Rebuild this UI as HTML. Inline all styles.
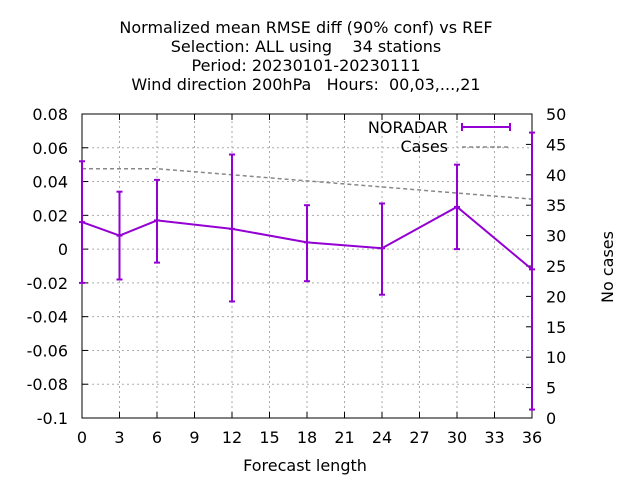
<!DOCTYPE html>
<html><head><meta charset="utf-8"><style>
body{margin:0;background:#fff}
svg{display:block;font-family:"DejaVu Sans","Liberation Sans",sans-serif}
text{white-space:pre}
</style></head><body>
<svg id="chart" width="640" height="480">
<g font-size="16" text-anchor="middle" fill="#000">
<text x="306" y="33" xml:space="preserve">Normalized mean RMSE diff (90% conf) vs REF</text>
<text x="306" y="52" xml:space="preserve">Selection: ALL using    34 stations</text>
<text x="306" y="71" xml:space="preserve">Period: 20230101-20230111</text>
<text x="306" y="90" xml:space="preserve">Wind direction 200hPa   Hours:  00,03,...,21</text>
</g>
<g id="grid"></g>
<rect x="82" y="114" width="450" height="304" fill="none" stroke="#000"/>
<g id="axes" font-size="16" fill="#000"></g>
<text x="305" y="471" font-size="16" text-anchor="middle">Forecast length</text>
<text x="0" y="0" font-size="16" text-anchor="middle" transform="translate(613,267) rotate(-90)">No cases</text>
<g id="series"></g>
<g font-size="16">
<text x="448" y="133" text-anchor="end">NORADAR</text>
<line x1="462" y1="127" x2="510" y2="127" stroke="#9400d3" stroke-width="2"/>
<line x1="462" y1="123" x2="462" y2="131" stroke="#9400d3" stroke-width="2"/>
<line x1="510" y1="123" x2="510" y2="131" stroke="#9400d3" stroke-width="2"/>
<text x="448" y="152" text-anchor="end">Cases</text>
<line x1="462" y1="147" x2="510" y2="147" stroke="#888" stroke-width="1.5" stroke-dasharray="4,3"/>
</g>
</svg>
<script>
const xTicks=[0,3,6,9,12,15,18,21,24,27,30,33,36];
const yTicks=[-0.1,-0.08,-0.06,-0.04,-0.02,0,0.02,0.04,0.06,0.08];
const yTickLabels=["-0.1","-0.08","-0.06","-0.04","-0.02","0","0.02","0.04","0.06","0.08"];
const y2Ticks=[0,5,10,15,20,25,30,35,40,45,50];
const steps=[0,3,6,12,18,24,30,36];
const meanVals=[0.016,0.008,0.017,0.012,0.004,0.0005,0.025,-0.012];
const upperVals=[0.052,0.034,0.041,0.056,0.026,0.027,0.050,0.069];
const lowerVals=[-0.020,-0.018,-0.008,-0.031,-0.019,-0.027,0.000,-0.095];
const casesVals=[41,41,41,40,39,38,37,36];
const NS="http://www.w3.org/2000/svg";
const X0=82,X1=532,Y0=418,Y1=114;
const sx=v=>X0+(v-0)/36*(X1-X0);
const sy=v=>Y0-(v+0.1)/0.18*(Y0-Y1);
const sy2=v=>Y0-v/50*(Y0-Y1);
function mk(t,a,p){const e=document.createElementNS(NS,t);for(const k in a)e.setAttribute(k,a[k]);p.appendChild(e);return e;}
const grid=document.getElementById('grid'),axes=document.getElementById('axes'),ser=document.getElementById('series');
xTicks.forEach(v=>{const x=sx(v);
 if(v>0&&v<36){const l=mk('line',{x1:x,y1:Y0,x2:x,y2:Y1,stroke:'#aaa','stroke-dasharray':'2,3'},grid);
 
 }
 mk('line',{x1:x,y1:Y0,x2:x,y2:Y0-6,stroke:'#000'},axes);mk('line',{x1:x,y1:Y1,x2:x,y2:Y1+6,stroke:'#000'},axes);
 const t=mk('text',{x:x,y:443,'text-anchor':'middle'},axes);t.textContent=v;
 
 });
yTicks.forEach((v,i)=>{const y=sy(v);
 if(i>0&&i<yTicks.length-1){const l=mk('line',{x1:X0,y1:y,x2:X1,y2:y,stroke:'#aaa','stroke-dasharray':'2,3'},grid);
 
 }
 mk('line',{x1:X0,y1:y,x2:X0+6,y2:y,stroke:'#000'},axes);
 const t=mk('text',{x:68,y:y+6,'text-anchor':'end'},axes);t.textContent=yTickLabels[i];
 
 });
y2Ticks.forEach(v=>{const y=sy2(v);
 mk('line',{x1:X1,y1:y,x2:X1-6,y2:y,stroke:'#000'},axes);
 const t=mk('text',{x:546,y:y+6,'text-anchor':'start'},axes);t.textContent=v;
 
 });
const cl=mk('polyline',{points:steps.map((s,i)=>sx(s)+','+sy2(casesVals[i])).join(' '),fill:'none',stroke:'#888','stroke-width':1.5,'stroke-dasharray':'4,3'},ser);


const ml=mk('polyline',{points:steps.map((s,i)=>sx(s)+','+sy(meanVals[i])).join(' '),fill:'none',stroke:'#9400d3','stroke-width':2},ser);


steps.forEach((s,i)=>{const x=sx(s),yu=sy(upperVals[i]),yl=sy(lowerVals[i]);
 const g=mk('g',{stroke:'#9400d3','stroke-width':2},ser);
 
 
 mk('line',{x1:x,y1:yu,x2:x,y2:yl},g);
 mk('line',{x1:x-3,y1:yu,x2:x+3,y2:yu},g);
 mk('line',{x1:x-3,y1:yl,x2:x+3,y2:yl},g);
 mk('line',{x1:x-3,y1:sy(meanVals[i]),x2:x+3,y2:sy(meanVals[i])},g);});
</script>
</body></html>
